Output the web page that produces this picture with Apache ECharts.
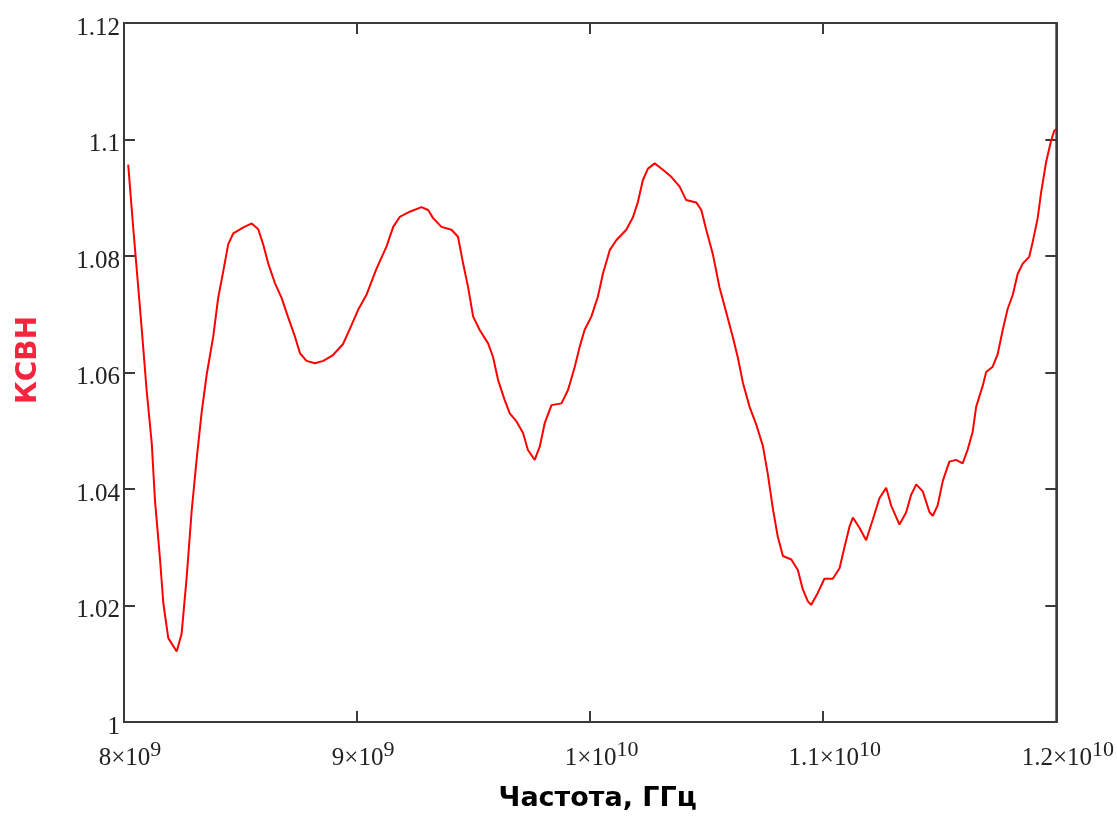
<!DOCTYPE html>
<html>
<head>
<meta charset="utf-8">
<title>КСВН</title>
<script src="https://cdn.jsdelivr.net/npm/echarts@6/dist/echarts.min.js"></script>
<style>
  html, body { margin: 0; padding: 0; background: #fff; }
  #chart { width: 1117px; height: 819px; }
</style>
</head>
<body>
<div id="chart"></div>
<script>
// частота, ГГц
const freqGHz = [
  8.018, 8.040, 8.054, 8.076, 8.097, 8.119, 8.133, 8.154, 8.169, 8.190,
  8.226, 8.247, 8.269, 8.290, 8.312, 8.333, 8.355, 8.383, 8.404, 8.426, 8.447,
  8.469, 8.512, 8.548, 8.576, 8.597, 8.619, 8.647, 8.676, 8.704, 8.733, 8.755,
  8.783, 8.819, 8.855, 8.897, 8.940, 8.969, 9.005, 9.041, 9.083, 9.126, 9.155,
  9.183, 9.226, 9.276, 9.305, 9.326, 9.362, 9.405, 9.433, 9.455, 9.476, 9.498,
  9.526, 9.562, 9.583, 9.605, 9.633, 9.655, 9.684, 9.712, 9.733, 9.762, 9.784,
  9.805, 9.834, 9.877, 9.905, 9.934, 9.955, 9.976, 10.005, 10.033, 10.055,
  10.084, 10.112, 10.155, 10.184, 10.205, 10.226, 10.248, 10.277, 10.312,
  10.348, 10.384, 10.412, 10.455, 10.477, 10.498, 10.527, 10.555, 10.584,
  10.612, 10.634, 10.655, 10.684, 10.713, 10.741, 10.762, 10.784, 10.805,
  10.827, 10.863, 10.891, 10.912, 10.934, 10.948, 10.977, 11.005, 11.041,
  11.070, 11.091, 11.113, 11.127, 11.156, 11.184, 11.213, 11.241, 11.270,
  11.291, 11.327, 11.356, 11.377, 11.399, 11.427, 11.456, 11.470, 11.491,
  11.513, 11.541, 11.570, 11.598, 11.620, 11.641, 11.656, 11.684, 11.699,
  11.727, 11.748, 11.770, 11.791, 11.813, 11.834, 11.856, 11.884, 11.898,
  11.920, 11.934, 11.956, 11.977, 11.991, 12.000
];
// КСВН
const vswr = [
  1.0957, 1.0846, 1.0780, 1.0675, 1.0570, 1.0479, 1.0380, 1.0282, 1.0203, 1.0144,
  1.0121, 1.0151, 1.0249, 1.0361, 1.0452, 1.0531, 1.0597, 1.0662, 1.0728, 1.0774, 1.0820,
  1.0839, 1.0849, 1.0856, 1.0846, 1.0820, 1.0787, 1.0754, 1.0728, 1.0695, 1.0662, 1.0633,
  1.0620, 1.0616, 1.0620, 1.0630, 1.0649, 1.0675, 1.0708, 1.0734, 1.0778, 1.0816, 1.0850,
  1.0867, 1.0876, 1.0884, 1.0879, 1.0865, 1.0850, 1.0845, 1.0833, 1.0787, 1.0747, 1.0696,
  1.0673, 1.0650, 1.0627, 1.0587, 1.0553, 1.0530, 1.0516, 1.0496, 1.0467, 1.0450, 1.0473,
  1.0513, 1.0544, 1.0547, 1.0570, 1.0610, 1.0644, 1.0673, 1.0696, 1.0730, 1.0770,
  1.0810, 1.0827, 1.0845, 1.0867, 1.0893, 1.0930, 1.0950, 1.0959, 1.0948,
  1.0936, 1.0919, 1.0896, 1.0892, 1.0879, 1.0845, 1.0802, 1.0746, 1.0703,
  1.0661, 1.0625, 1.0583, 1.0541, 1.0510, 1.0474, 1.0426, 1.0366, 1.0318,
  1.0285, 1.0279, 1.0261, 1.0228, 1.0207, 1.0201, 1.0222, 1.0246, 1.0246,
  1.0264, 1.0300, 1.0336, 1.0351, 1.0333, 1.0312, 1.0348, 1.0384, 1.0402,
  1.0372, 1.0339, 1.0360, 1.0390, 1.0408, 1.0396, 1.0360, 1.0354, 1.0372,
  1.0414, 1.0447, 1.0450, 1.0444, 1.0468, 1.0498, 1.0541, 1.0577, 1.0601,
  1.0610, 1.0631, 1.0673, 1.0709, 1.0733, 1.0769, 1.0787, 1.0799, 1.0823,
  1.0865, 1.0907, 1.0961, 1.0997, 1.1015, 1.1018
];
// подписи оси X: мантисса и показатель степени
const xTickValues = [8, 9, 10, 11, 12];
const xTickMant = ['8', '9', '1', '1.1', '1.2'];
const xTickExp = ['9', '9', '10', '10', '10'];

const myChart = echarts.init(document.getElementById('chart'));

const serif = '"Liberation Serif", "Times New Roman", serif';
const axisColor = '#3a3a3a';
const tick = { inside: true, length: 11, lineStyle: { color: axisColor, width: 2 } };

myChart.setOption({
  animation: false,
  grid: {
    left: 124, right: 60, top: 23, bottom: 97,
    show: true, borderColor: axisColor, borderWidth: 2
  },
  xAxis: [{
    type: 'value',
    min: 8, max: 12, interval: 1,
    splitLine: { show: false },
    axisLine: { lineStyle: { color: axisColor, width: 2 } },
    axisTick: tick,
    axisLabel: {
      margin: 17,
      showMinLabel: true, showMaxLabel: true,
      formatter: function (v) {
        const i = xTickValues.indexOf(v);
        if (i < 0) return '';
        const k = xTickExp[i].length;
        return '{m' + k + '|' + xTickMant[i] + '×10}{s|' + xTickExp[i] + '}';
      },
      rich: {
        m1: { fontFamily: serif, fontSize: 25, color: '#222', verticalAlign: 'bottom', padding: [0, 0, 0, 12] },
        m2: { fontFamily: serif, fontSize: 25, color: '#222', verticalAlign: 'bottom', padding: [0, 0, 0, 23] },
        s: { fontFamily: serif, fontSize: 22, color: '#222', verticalAlign: 'top', padding: [0, 0, 10, 0] }
      }
    },
    name: 'Частота, ГГц',
    nameLocation: 'middle',
    nameGap: 63,
    nameTextStyle: {
      fontFamily: '"DejaVu Sans", Verdana, sans-serif',
      fontWeight: 'bold', fontSize: 27, color: '#000',
      padding: [0, 0, 0, 15]
    }
  }, {
    type: 'value',
    position: 'top',
    min: 8, max: 12, interval: 1,
    splitLine: { show: false },
    axisLine: { show: true, lineStyle: { color: axisColor, width: 2 } },
    axisTick: tick,
    axisLabel: { show: false }
  }],
  yAxis: [{
    type: 'value',
    min: 1, max: 1.12, interval: 0.02,
    splitLine: { show: false },
    axisLine: { lineStyle: { color: axisColor, width: 2 } },
    axisTick: tick,
    axisLabel: {
      margin: 4,
      formatter: function (v) { return '{a|' + v + '}'; },
      rich: {
        a: { fontFamily: serif, fontSize: 25, color: '#222', padding: [10, 0, 0, 0] }
      }
    }
  }, {
    type: 'value',
    position: 'right',
    min: 1, max: 1.12, interval: 0.02,
    splitLine: { show: false },
    axisLine: { show: true, lineStyle: { color: axisColor, width: 2 } },
    axisTick: tick,
    axisLabel: { show: false }
  }],
  graphic: [{
    type: 'text',
    x: 29, y: 360,
    rotation: Math.PI / 2,
    style: {
      text: 'КСВН',
      font: 'bold 28px "DejaVu Sans", Verdana, sans-serif',
      fill: '#f5243f',
      textAlign: 'center',
      textVerticalAlign: 'middle'
    }
  }],
  series: [{
    type: 'line',
    showSymbol: false,
    data: freqGHz.map(function (f, i) { return [f, vswr[i]]; }),
    lineStyle: { color: '#ff0000', width: 2 },
    itemStyle: { color: '#ff0000' }
  }]
});
</script>
</body>
</html>
